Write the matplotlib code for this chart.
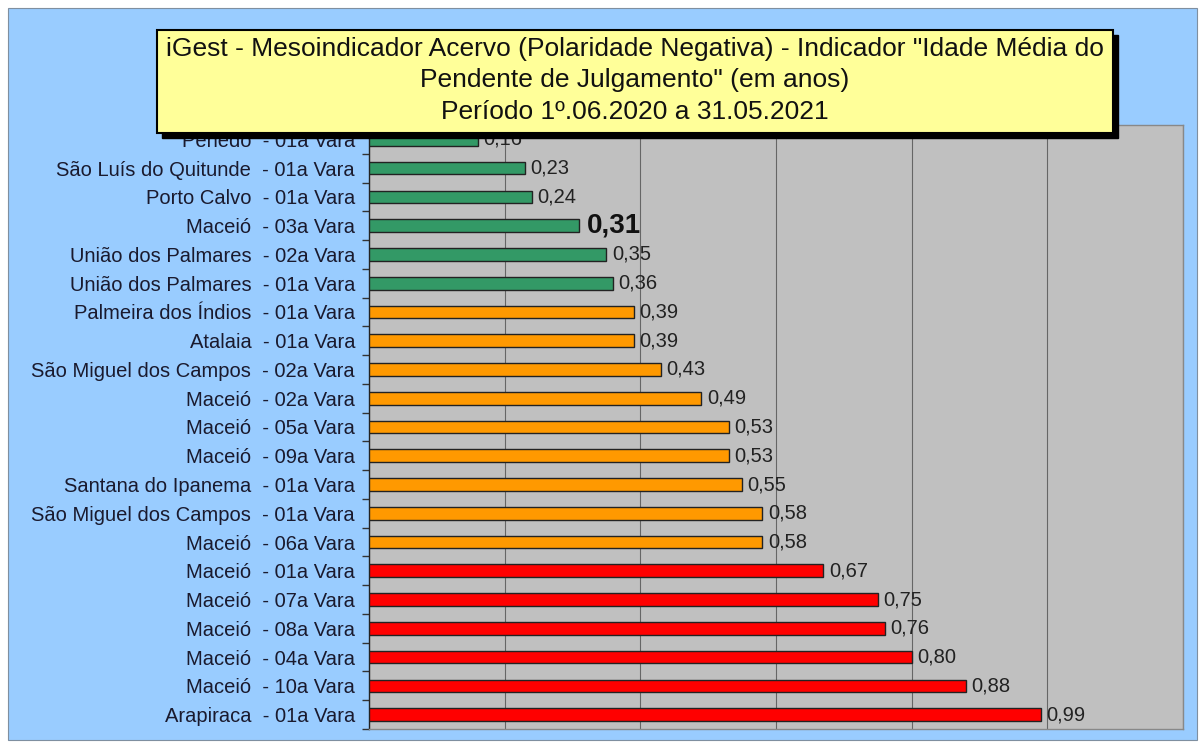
import matplotlib
matplotlib.use("Agg")
import matplotlib.pyplot as plt
from matplotlib.patches import Rectangle

plt.rcParams['font.family'] = ['Liberation Sans', 'DejaVu Sans']

categories = [
    "Penedo  - 01a Vara",
    "São Luís do Quitunde  - 01a Vara",
    "Porto Calvo  - 01a Vara",
    "Maceió  - 03a Vara",
    "União dos Palmares  - 02a Vara",
    "União dos Palmares  - 01a Vara",
    "Palmeira dos Índios  - 01a Vara",
    "Atalaia  - 01a Vara",
    "São Miguel dos Campos  - 02a Vara",
    "Maceió  - 02a Vara",
    "Maceió  - 05a Vara",
    "Maceió  - 09a Vara",
    "Santana do Ipanema  - 01a Vara",
    "São Miguel dos Campos  - 01a Vara",
    "Maceió  - 06a Vara",
    "Maceió  - 01a Vara",
    "Maceió  - 07a Vara",
    "Maceió  - 08a Vara",
    "Maceió  - 04a Vara",
    "Maceió  - 10a Vara",
    "Arapiraca  - 01a Vara",
]
values = [0.16, 0.23, 0.24, 0.31, 0.35, 0.36, 0.39, 0.39, 0.43, 0.49, 0.53,
          0.53, 0.55, 0.58, 0.58, 0.67, 0.75, 0.76, 0.80, 0.88, 0.99]
groups = ["g"] * 6 + ["o"] * 9 + ["r"] * 6
highlight = "Maceió  - 03a Vara"
title_lines = [
    'iGest - Mesoindicador Acervo (Polaridade Negativa) - Indicador "Idade Média do',
    'Pendente de Julgamento" (em anos)',
    'Período 1º.06.2020 a 31.05.2021',
]

color_map = {"g": "#339966", "o": "#FF9900", "r": "#FF0000"}

W, H = 1204, 742
fig = plt.figure(figsize=(W / 100, H / 100), dpi=100, facecolor="white")

# blue chart background
fig.add_artist(Rectangle((8 / W, 1 - 740 / H), (1197 - 8) / W, (740 - 8) / H,
                         transform=fig.transFigure, facecolor="#99CCFF",
                         edgecolor="#7f8fa0", linewidth=0.8, zorder=-10))

ax = fig.add_axes([369 / W, 1 - 729 / H, (1183 - 369) / W, (729 - 125) / H])
ax.set_facecolor("#C0C0C0")

ypos = list(range(len(categories)))
colors = [color_map[g] for g in groups]
ax.barh(ypos, values, height=0.44, color=colors, edgecolor="#222222",
        linewidth=1.0, zorder=3)

for y, v, c in zip(ypos, values, categories):
    txt = f"{v:.2f}".replace(".", ",")
    if c == highlight:
        ax.text(v + 0.011, y, txt, va="center", ha="left", fontsize=20,
                fontweight="bold", color="#111111", zorder=4)
    else:
        ax.text(v + 0.008, y, txt, va="center", ha="left", fontsize=14.5,
                color="#222222", zorder=4)

ax.set_xlim(0, 1.2)
ax.set_ylim(len(categories) - 0.5, -0.5)
ax.set_xticks([0, 0.2, 0.4, 0.6, 0.8, 1.0, 1.2])
ax.set_xticklabels([])
ax.tick_params(axis="x", length=0)
ax.grid(axis="x", color="#666666", linewidth=0.8, zorder=1)

ax.set_yticks(ypos)
ax.set_yticklabels(categories, fontsize=14.5, color="#1a1a2e")
ax.tick_params(axis="y", which="major", length=0, pad=10)
ax.set_yticks([i - 0.5 for i in range(len(categories) + 1)], minor=True)
ax.tick_params(axis="y", which="minor", length=5, width=1, color="#333333")

for s in ["top", "right", "bottom"]:
    ax.spines[s].set_color("#888888")
    ax.spines[s].set_linewidth(1.0)
ax.spines["left"].set_color("#222222")
ax.spines["left"].set_linewidth(1.0)

# title box with shadow
bx0, bx1, by0, by1 = 157, 1113, 30, 133
sh = 5
fig.add_artist(Rectangle(((bx0 + sh) / W, 1 - (by1 + sh) / H), (bx1 - bx0) / W,
                         (by1 - by0) / H, transform=fig.transFigure,
                         facecolor="black", edgecolor="black", zorder=5))
fig.add_artist(Rectangle((bx0 / W, 1 - by1 / H), (bx1 - bx0) / W, (by1 - by0) / H,
                         transform=fig.transFigure, facecolor="#FFFF99",
                         edgecolor="black", linewidth=1.5, zorder=6))
line_y = [49, 80, 112]
for t, ly in zip(title_lines, line_y):
    fig.text((bx0 + bx1) / 2 / W, 1 - ly / H, t, ha="center", va="center",
             fontsize=19, color="#111111", zorder=7)

fig.savefig("out.png", dpi=100, facecolor="white")
